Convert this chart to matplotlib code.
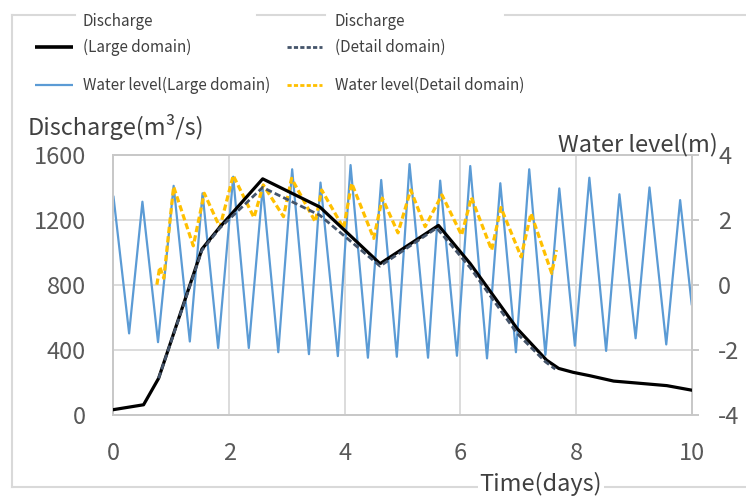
import matplotlib
matplotlib.use("Agg")
import matplotlib.pyplot as plt
from matplotlib.lines import Line2D

plt.rcParams['font.family'] = ['Noto Sans CJK JP', 'DejaVu Sans']
plt.rcParams['lines.scale_dashes'] = False
plt.rcParams['axes.unicode_minus'] = False

# 流量 (大領域)
q_large_t = [0, 0.52, 0.78, 1.53, 1.84, 2.58, 3.57, 4.61, 5.62, 6.17, 6.98, 7.49, 7.70,
             7.95, 8.24, 8.65, 9.05, 9.57, 10.0]
q_large = [30, 60, 223, 1020, 1156, 1453, 1279, 930, 1166, 930, 530, 335, 284,
           260, 239, 206, 194, 178, 150]

# 流量 (詳細領域)
q_detail_t = [0.78, 1.53, 1.84, 2.58, 3.57, 4.61, 5.59, 6.17, 6.98, 7.47, 7.64]
q_detail = [223, 1012, 1150, 1400, 1228, 915, 1150, 905, 500, 325, 280]

# 水位 (大領域)
wl_large_t = [0, 0.27, 0.50, 0.77, 1.04, 1.32, 1.54, 1.81, 2.07, 2.34, 2.58, 2.85, 3.09, 3.38,
              3.58, 3.88, 4.10, 4.40, 4.63, 4.90, 5.12, 5.44, 5.65, 5.94, 6.17, 6.46, 6.69,
              6.96, 7.19, 7.47, 7.71, 7.98, 8.23, 8.52, 8.75, 9.03, 9.27, 9.56, 9.80, 10.0]
wl_large = [2.71, -1.50, 2.56, -1.77, 3.05, -1.75, 2.82, -1.95, 3.33, -1.95, 3.00, -2.08, 3.56,
            -2.14, 3.15, -2.20, 3.69, -2.25, 3.23, -2.22, 3.72, -2.25, 3.21, -2.19, 3.66, -2.27,
            3.13, -2.08, 3.56, -2.16, 2.97, -1.88, 3.30, -2.04, 2.79, -1.65, 3.00, -1.84, 2.61, -0.60]

# 水位 (詳細領域)
wl_detail_t = [0.75, 0.80, 0.87, 1.04, 1.38, 1.57, 1.84, 2.07, 2.43, 2.59, 2.94, 3.08, 3.49, 3.60,
               3.98, 4.12, 4.50, 4.65, 4.92, 5.14, 5.39, 5.68, 6.02, 6.19, 6.54, 6.70, 7.05, 7.22,
               7.58, 7.66]
wl_detail = [0.0, 0.55, 0.2, 3.02, 1.2, 2.82, 1.77, 3.37, 2.07, 3.08, 2.1, 3.28, 1.94, 2.92,
             1.74, 3.13, 1.43, 2.67, 1.6, 2.92, 1.79, 2.77, 1.53, 2.69, 1.07, 2.38, 0.86, 2.2,
             0.35, 1.07]

x_ticks = [0, 2, 4, 6, 8, 10]
q_ticks = [0, 400, 800, 1200, 1600]
wl_ticks = [-4, -2, 0, 2, 4]

labels = ['Discharge\n(Large domain)', 'Discharge\n(Detail domain)',
          'Water level(Large domain)', 'Water level(Detail domain)']

c_black = '#000000'
c_dark = '#44546A'
c_blue = '#5B9BD5'
c_yellow = '#FFC000'
c_grid = '#D9D9D9'
c_text = '#404040'
c_tick = '#595959'

W, H = 746, 497
fig = plt.figure(figsize=(W / 100, H / 100), dpi=100)

def fx(px):
    return px / W

def fy(py):
    return 1 - py / H

left, right, top, bottom = 113.5, 691.7, 155, 414.5
ax2 = fig.add_axes([fx(left), fy(bottom), fx(right - left), (bottom - top) / H])
ax = ax2.twinx()
ax.yaxis.set_label_position('left')
ax.yaxis.tick_left()
ax2.yaxis.tick_right()

# 水位軸 (右) — グリッドもこちらで描く
ax2.set_xlim(0, 10)
ax2.set_ylim(-4, 4)
ax2.set_xticks(x_ticks)
ax2.set_yticks(wl_ticks)
ax2.grid(True, color=c_grid, lw=1.3)
ax2.set_axisbelow(True)
ax2.plot(wl_large_t, wl_large, color=c_blue, lw=1.6, zorder=2)
ax2.plot(wl_detail_t, wl_detail, color=c_yellow, lw=2.3, dashes=(4.5, 2.3), zorder=3)
ax2.tick_params(axis='y', which='both', direction='out', length=5, width=1.2, color='#BFBFBF',
                labelsize=17, labelcolor=c_tick, pad=14)
ax2.tick_params(axis='x', length=0, labelsize=17, labelcolor=c_tick, pad=20)

# 流量軸 (左)
ax.set_xlim(0, 10)
ax.set_ylim(0, 1600)
ax.set_yticks(q_ticks)
ax.plot(q_large_t, q_large, color=c_black, lw=2.3, zorder=4)
ax.plot(q_detail_t, q_detail, color=c_dark, lw=2.0, dashes=(4.5, 2.3), zorder=5)
ax.tick_params(axis='y', length=0, labelsize=17, labelcolor=c_tick, pad=20)

for a in (ax, ax2):
    for s in a.spines.values():
        s.set_color('#C8C8C8')
        s.set_linewidth(1.3)

# 軸ラベル
fig.text(fx(28), fy(127), 'Discharge(m³/s)', fontsize=17, color=c_text, va='center', ha='left')
fig.text(fx(718), fy(145), 'Water level(m)', fontsize=17, color=c_text, va='center', ha='right')
fig.text(fx(541), fy(484), 'Time(days)', fontsize=17, color=c_text, va='center', ha='center',
         bbox=dict(facecolor='white', edgecolor='none', pad=1))

# 外枠
frame_kw = dict(transform=fig.transFigure, color='#D9D9D9', lw=1.5)
for x0, x1 in [(12, 75), (257, 325), (505, 746)]:
    fig.add_artist(Line2D([fx(x0), fx(x1)], [fy(15), fy(15)], **frame_kw))
fig.add_artist(Line2D([fx(12), fx(12)], [fy(15), fy(487)], **frame_kw))
fig.add_artist(Line2D([fx(12), fx(746)], [fy(487), fy(487)], **frame_kw))

# 凡例
handles = [
    dict(color=c_black, lw=2.6),
    dict(color=c_dark, lw=2.0, dashes=(3.0, 1.6)),
    dict(color=c_blue, lw=1.6),
    dict(color=c_yellow, lw=2.0, dashes=(3.0, 1.6)),
]
cols = [(35, 73, 83), (287, 322, 335)]
rows = [47, 85]
fs_leg = 11
for i, (lab, hk) in enumerate(zip(labels, handles)):
    hx0, hx1, tx = cols[i % 2]
    ry = rows[i // 2]
    fig.add_artist(Line2D([fx(hx0), fx(hx1)], [fy(ry), fy(ry)], transform=fig.transFigure,
                          solid_capstyle='butt', **hk))
    parts = lab.split('\n')
    if len(parts) == 2:
        fig.text(fx(tx), fy(21), parts[0], fontsize=fs_leg, color=c_text, va='center', ha='left')
        fig.text(fx(tx), fy(ry), parts[1], fontsize=fs_leg, color=c_text, va='center', ha='left')
    else:
        fig.text(fx(tx), fy(ry), lab, fontsize=fs_leg, color=c_text, va='center', ha='left')

fig.savefig('out.png', dpi=100)
